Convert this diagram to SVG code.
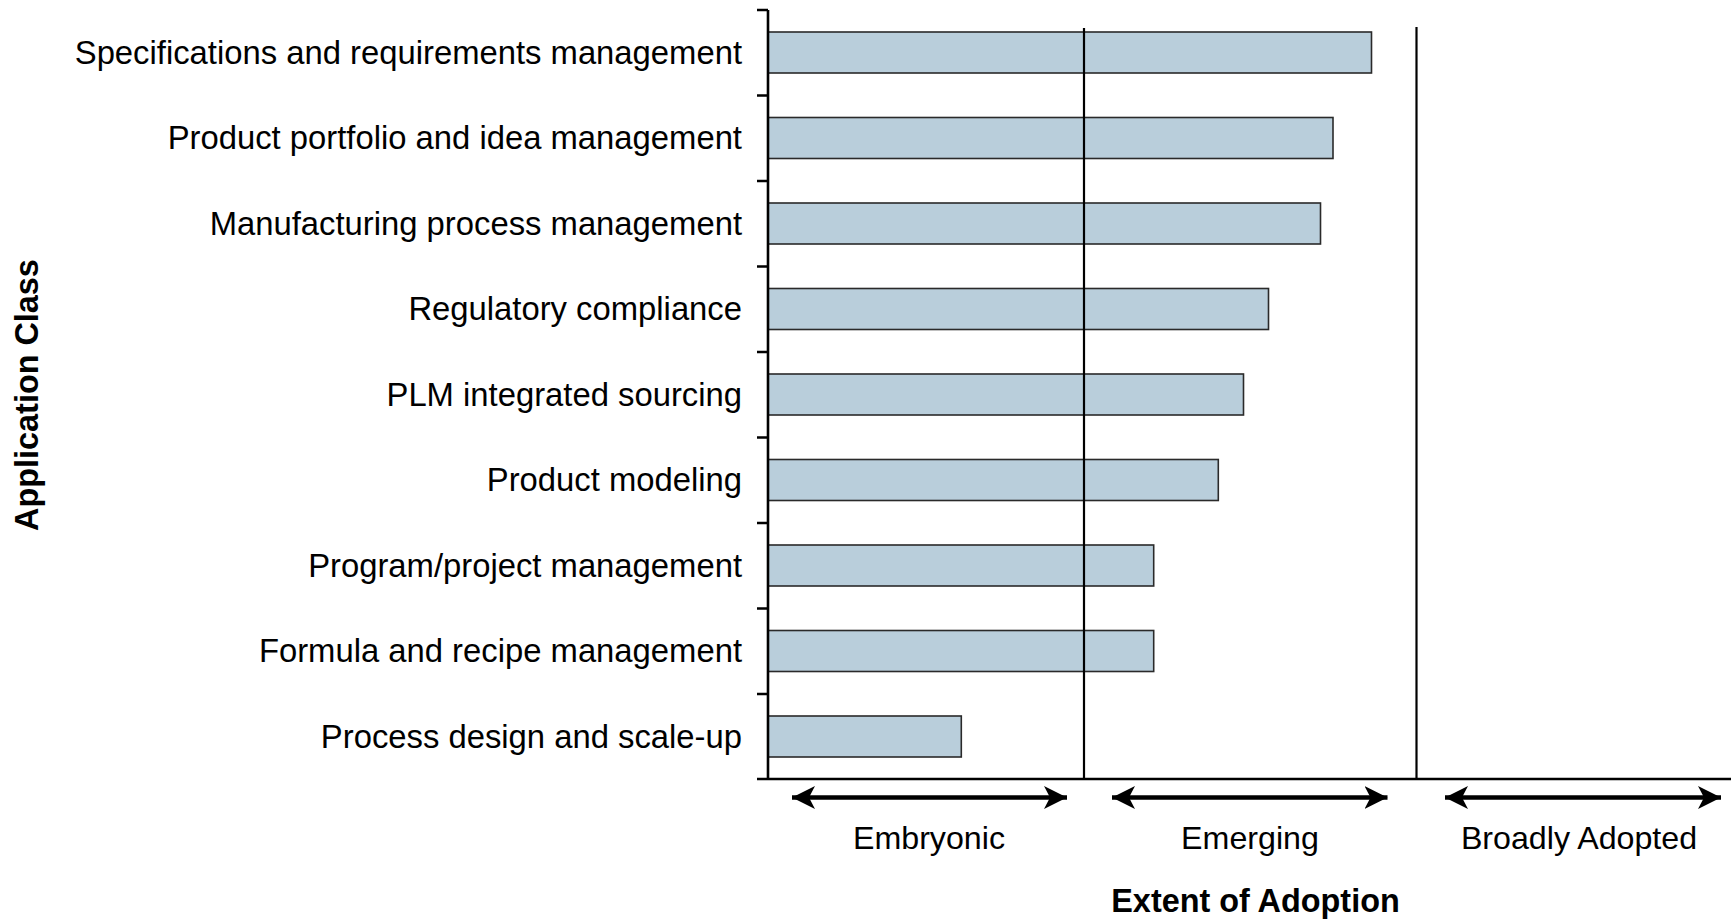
<svg xmlns="http://www.w3.org/2000/svg" width="1731" height="919" viewBox="0 0 1731 919">
<style>
text{font-family:"Liberation Sans",Arial,sans-serif;fill:#000}
.lbl{font-size:32.8px;text-anchor:end}
.cat{font-size:32.2px;text-anchor:middle}
.ttl{font-size:32.4px;font-weight:bold;text-anchor:middle}
.bar{fill:#B9CEDB;stroke:#2a2a2a;stroke-width:1.6}
.axis{stroke:#000;stroke-width:2.6;fill:none}
.div{stroke:#000;stroke-width:2.2}
.arr{stroke:#000;stroke-width:4.4;marker-start:url(#ah);marker-end:url(#ah)}
</style>
<defs>
<marker id="ah" viewBox="0 0 23 23" refX="23" refY="11.5" markerWidth="23" markerHeight="23" markerUnits="userSpaceOnUse" orient="auto-start-reverse">
<path d="M0,0 L23,11.5 L0,23 L6,11.5 Z" fill="#000"/>
</marker>
</defs>
<rect width="1731" height="919" fill="#fff"/>
<g id="row1"><rect class="bar" x="768" y="32" width="603.5" height="41"/><text class="lbl" x="742" y="63.5">Specifications and requirements management</text></g>
<g id="row2"><rect class="bar" x="768" y="117.5" width="565" height="41"/><text class="lbl" x="742" y="149">Product portfolio and idea management</text></g>
<g id="row3"><rect class="bar" x="768" y="203" width="552.5" height="41"/><text class="lbl" x="742" y="234.5">Manufacturing process management</text></g>
<g id="row4"><rect class="bar" x="768" y="288.5" width="500.5" height="41"/><text class="lbl" x="742" y="320">Regulatory compliance</text></g>
<g id="row5"><rect class="bar" x="768" y="374" width="475.5" height="41"/><text class="lbl" x="742" y="405.5">PLM integrated sourcing</text></g>
<g id="row6"><rect class="bar" x="768" y="459.5" width="450.3" height="41"/><text class="lbl" x="742" y="491">Product modeling</text></g>
<g id="row7"><rect class="bar" x="768" y="545" width="385.7" height="41"/><text class="lbl" x="742" y="576.5">Program/project management</text></g>
<g id="row8"><rect class="bar" x="768" y="630.5" width="385.7" height="41"/><text class="lbl" x="742" y="662">Formula and recipe management</text></g>
<g id="row9"><rect class="bar" x="768" y="716" width="193.3" height="41"/><text class="lbl" x="742" y="747.5">Process design and scale-up</text></g>
<g id="dividers">
<line class="div" x1="1084" y1="28" x2="1084" y2="779"/>
<line class="div" x1="1416.5" y1="27" x2="1416.5" y2="779"/>
</g>
<g id="axes">
<path class="axis" d="M768,10 V779 M757,779 H1731 M757,10 H768 M757,95.5 H768 M757,181 H768 M757,266.5 H768 M757,352 H768 M757,437.5 H768 M757,523 H768 M757,608.5 H768 M757,694 H768"/>
</g>
<g id="connectors">
<line class="arr" x1="792" y1="797.5" x2="1067" y2="797.5"/>
<line class="arr" x1="1112" y1="797.5" x2="1387.5" y2="797.5"/>
<line class="arr" x1="1445" y1="797.5" x2="1721" y2="797.5"/>
</g>
<g id="categories">
<text class="cat" x="929" y="849">Embryonic</text>
<text class="cat" x="1250" y="849">Emerging</text>
<text class="cat" x="1579" y="849">Broadly Adopted</text>
</g>
<g id="titles">
<text class="ttl" x="1255.5" y="912">Extent of Adoption</text>
<text class="ttl" transform="translate(38,395) rotate(-90)">Application Class</text>
</g>
</svg>
